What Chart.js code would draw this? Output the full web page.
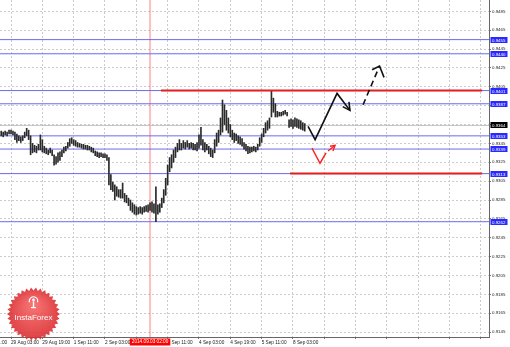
<!DOCTYPE html>
<html>
<head>
<meta charset="utf-8">
<script src="https://cdn.jsdelivr.net/npm/chart.js@4.4.1/dist/chart.umd.min.js"></script>
<style>
  html, body { margin: 0; padding: 0; background: #fff; }
  #chart { display: block; }
</style>
</head>
<body>
<canvas id="chart" width="510" height="347"></canvas>
<script>
// ----------------------------
// Data (H1 bars, bar 0 = 29 Aug 03:00)
// ----------------------------
const firstBar = -5;
const highs = [
  0.9358, 0.9357, 0.9358, 0.9357, 0.9359, 0.9359, 0.9358, 0.9357, 0.9355, 0.9353,
  0.9352, 0.9353, 0.9357, 0.9361, 0.9359, 0.9353, 0.9345, 0.9343, 0.9342, 0.9344,
  0.9354, 0.9349, 0.9342, 0.9340, 0.9338, 0.9340, 0.9338, 0.9333, 0.9331, 0.9335,
  0.9336, 0.9338, 0.9341, 0.9342, 0.9346, 0.9350, 0.9351, 0.9349, 0.9348, 0.9346,
  0.9345, 0.9344, 0.9344, 0.9343, 0.9343, 0.9342, 0.9341, 0.9340, 0.9337, 0.9336,
  0.9335, 0.9335, 0.9334, 0.9334, 0.9333, 0.9330, 0.9312, 0.9304, 0.9301, 0.9299,
  0.9296, 0.9296, 0.9303, 0.9292, 0.9290, 0.9287, 0.9285, 0.9282, 0.9280, 0.9278,
  0.9277, 0.9278, 0.9277, 0.9278, 0.9279, 0.9280, 0.9282, 0.9283, 0.9281, 0.9299,
  0.9280, 0.9281, 0.9287, 0.9296, 0.9308, 0.9322, 0.9330, 0.9333, 0.9338, 0.9341,
  0.9345, 0.9349, 0.9345, 0.9348, 0.9346, 0.9348, 0.9345, 0.9346, 0.9345, 0.9344,
  0.9346, 0.9354, 0.9362, 0.9349, 0.9346, 0.9344, 0.9342, 0.9340, 0.9338, 0.9349,
  0.9356, 0.9359, 0.9372, 0.9391, 0.9386, 0.9380, 0.9372, 0.9365, 0.9359, 0.9356,
  0.9355, 0.9353, 0.9352, 0.9350, 0.9346, 0.9344, 0.9342, 0.9341, 0.9341, 0.9342,
  0.9341, 0.9344, 0.9351, 0.9355, 0.9361, 0.9367, 0.9369, 0.9372, 0.9400, 0.9393,
  0.9387, 0.9379, 0.9378, 0.9378, 0.9379, 0.9380, 0.9378, 0.9370, 0.9371, 0.9370,
  0.9372, 0.9371, 0.9370, 0.9369, 0.9367, 0.9366
];
const lows = [
  0.9353, 0.9352, 0.9354, 0.9353, 0.9355, 0.9355, 0.9354, 0.9349, 0.9346, 0.9348,
  0.9346, 0.9348, 0.9351, 0.9353, 0.9349, 0.9333, 0.9335, 0.9336, 0.9335, 0.9338,
  0.9338, 0.9336, 0.9335, 0.9334, 0.9333, 0.9335, 0.9332, 0.9322, 0.9323, 0.9325,
  0.9327, 0.9331, 0.9335, 0.9337, 0.9340, 0.9342, 0.9345, 0.9343, 0.9342, 0.9341,
  0.9341, 0.9340, 0.9339, 0.9339, 0.9338, 0.9338, 0.9336, 0.9335, 0.9332, 0.9331,
  0.9330, 0.9331, 0.9330, 0.9330, 0.9327, 0.9301, 0.9296, 0.9294, 0.9285, 0.9289,
  0.9288, 0.9287, 0.9287, 0.9283, 0.9282, 0.9279, 0.9274, 0.9272, 0.9270, 0.9269,
  0.9270, 0.9271, 0.9270, 0.9272, 0.9273, 0.9272, 0.9274, 0.9272, 0.9271, 0.9262,
  0.9270, 0.9272, 0.9277, 0.9282, 0.9290, 0.9301, 0.9315, 0.9319, 0.9325, 0.9330,
  0.9336, 0.9338, 0.9338, 0.9340, 0.9339, 0.9341, 0.9339, 0.9340, 0.9338, 0.9338,
  0.9337, 0.9340, 0.9343, 0.9338, 0.9336, 0.9338, 0.9334, 0.9331, 0.9330, 0.9335,
  0.9342, 0.9346, 0.9354, 0.9357, 0.9365, 0.9359, 0.9356, 0.9352, 0.9349, 0.9346,
  0.9348, 0.9345, 0.9344, 0.9342, 0.9339, 0.9337, 0.9334, 0.9335, 0.9336, 0.9337,
  0.9336, 0.9338, 0.9342, 0.9346, 0.9352, 0.9356, 0.9359, 0.9361, 0.9373, 0.9378,
  0.9373, 0.9373, 0.9374, 0.9374, 0.9375, 0.9376, 0.9374, 0.9362, 0.9363, 0.9361,
  0.9363, 0.9362, 0.9361, 0.9360, 0.9359, 0.9358
];

// time axis (bar index of each label)
const timeTicks = [-16, 0, 16, 32, 48, 64, 80, 96, 112, 128, 144];
const timeLabels = ['28 Aug 11:00', '29 Aug 03:00', '29 Aug 19:00', '1 Sep 11:00', '2 Sep 03:00',
  '2 Sep 19:00', '3 Sep 11:00', '4 Sep 03:00', '4 Sep 19:00', '5 Sep 11:00', '8 Sep 03:00'];
const futureTicks = [160, 176, 192, 208, 224, 240];
const markerBar = 71;
const markerLabel = '2014.09.03 02:00';

// price axis
const priceTicks = [0.9145, 0.9165, 0.9185, 0.9205, 0.9225, 0.9245, 0.9265, 0.9285, 0.9305,
  0.9325, 0.9345, 0.9365, 0.9385, 0.9405, 0.9425, 0.9445, 0.9465, 0.9485];
const blueLevels = [0.9455, 0.9440, 0.9401, 0.9387, 0.9353, 0.9339, 0.9313, 0.9262];
const lastPrice = 0.9364;

// red key levels: price, first bar, last bar
const redLevels = [0.9401, 0.9313];
const redFrom = [76.6, 142.5];
const redTo = [240.6, 240.6];

// forecast arrows (bar index / price)
const mainX = [151.7, 155.3, 166.5, 173.1];
const mainY = [0.9363, 0.9349, 0.9398, 0.9380];
const mainHeadX = [169.4, 173.1, 172.6];
const mainHeadY = [0.9384, 0.9380, 0.9389];
const altX = [179.8, 188.2];
const altY = [0.9386, 0.9427];
const altHeadX = [184.4, 188.2, 190.5];
const altHeadY = [0.9423, 0.9427, 0.9415];
const redVX = [153.7, 157.8, 160.9];
const redVY = [0.9340, 0.9324, 0.9335];
const redUpX = [161.9, 165.5];
const redUpY = [0.9337, 0.9343];
const redHeadX = [162.9, 165.5, 164.4];
const redHeadY = [0.9342, 0.9343, 0.9337];

// ----------------------------
// Config
// ----------------------------
const X_MIN = -5.62, X_MAX = 244.1;
const Y_MIN = 0.91398, Y_MAX = 0.9497;
const FONT = 'Liberation Sans';
const GRID = '#cbcbcb';

Chart.defaults.font.family = FONT;

const path = (xs, ys, color, width, dash, order) => ({
  type: 'line',
  data: xs.map((x, k) => ({ x, y: ys[k] })),
  borderColor: color,
  borderWidth: width,
  borderDash: dash || [],
  pointRadius: 0,
  tension: 0,
  fill: false,
  order
});

const datasets = [];
datasets.push({
  type: 'bar',
  data: highs.map((h, k) => ({ x: firstBar + k, y: [lows[k], h] })),
  backgroundColor: '#2a2a2a',
  barThickness: 1,
  order: 2
});
blueLevels.forEach(v => datasets.push(path([X_MIN, X_MAX], [v, v], '#6b6bf2', 1, null, 4)));
datasets.push(path([X_MIN, X_MAX], [lastPrice, lastPrice], '#c4c4c4', 1, null, 5));
redLevels.forEach((v, k) => datasets.push(path([redFrom[k], redTo[k]], [v, v], '#e41e1e', 2, null, 3)));
datasets.push(path([markerBar, markerBar], [Y_MIN, Y_MAX], 'rgba(255,110,110,0.45)', 2, null, 6));
datasets.push(path(mainX, mainY, '#111', 1.6, null, 0));
datasets.push(path(mainHeadX, mainHeadY, '#111', 1.6, null, 0));
datasets.push(path(altX, altY, '#111', 1.6, [6, 4], 0));
datasets.push(path(altHeadX, altHeadY, '#111', 1.6, null, 0));
datasets.push(path(redVX, redVY, '#ff2020', 1.4, null, 0));
datasets.push(path(redUpX, redUpY, '#ff2020', 1.4, null, 0));
datasets.push(path(redHeadX, redHeadY, '#ff2020', 1.4, null, 0));

// price tags, time marker tag and watermark
const drawTag = (ctx, left, yPix, text, bg) => {
  ctx.fillStyle = bg;
  ctx.fillRect(left, Math.round(yPix) - 3, 17, 6);
  ctx.fillStyle = '#fff';
  ctx.fillText(text, left + 1.5, Math.round(yPix) + 0.3);
};

const drawLogo = (ctx, cx, cy) => {
  const spikes = 34, rOut = 26.5, rIn = 23.5;
  ctx.beginPath();
  for (let k = 0; k < spikes * 2; k++) {
    const r = k % 2 ? rIn : rOut;
    const a = Math.PI * k / spikes;
    ctx.lineTo(cx + r * Math.cos(a), cy + r * Math.sin(a));
  }
  ctx.closePath();
  const g = ctx.createRadialGradient(cx, cy - 10, 2, cx, cy, rOut);
  g.addColorStop(0, 'rgba(246,100,100,0.9)');
  g.addColorStop(1, 'rgba(218,44,48,0.9)');
  ctx.fillStyle = g;
  ctx.fill();

  // emblem
  ctx.strokeStyle = '#fff';
  ctx.fillStyle = '#fff';
  ctx.lineWidth = 1.2;
  ctx.beginPath();
  ctx.arc(cx, cy - 13, 4.2, Math.PI * 0.1, Math.PI * 0.9, true);
  ctx.stroke();
  ctx.beginPath();
  ctx.arc(cx, cy - 14, 1.4, 0, Math.PI * 2);
  ctx.fill();
  ctx.fillRect(cx - 0.7, cy - 12.5, 1.4, 6);
  ctx.fillRect(cx - 2.5, cy - 7, 5, 1.2);

  ctx.font = `8px "${FONT}"`;
  ctx.textAlign = 'center';
  ctx.textBaseline = 'middle';
  ctx.fillText('InstaForex', cx, cy + 4);
};

const overlay = {
  id: 'overlay',
  afterDraw(chart) {
    const { ctx, chartArea, scales: { x, y } } = chart;
    ctx.save();
    ctx.font = `4.4px "${FONT}"`;
    ctx.textAlign = 'left';
    ctx.textBaseline = 'middle';
    blueLevels.forEach(v => drawTag(ctx, chartArea.right + 1.5, y.getPixelForValue(v), v.toFixed(4), '#2a2aff'));
    drawTag(ctx, chartArea.right + 1.5, y.getPixelForValue(lastPrice), lastPrice.toFixed(4), '#000');

    // time marker tag
    ctx.font = `4.7px "${FONT}"`;
    const mx = x.getPixelForValue(markerBar);
    const w = ctx.measureText(markerLabel).width + 4;
    ctx.fillStyle = '#ff0000';
    ctx.fillRect(mx - w / 2, chartArea.bottom + 1.5, w, 7);
    ctx.fillStyle = '#fff';
    ctx.textAlign = 'center';
    ctx.fillText(markerLabel, mx, chartArea.bottom + 5.2);

    drawLogo(ctx, chartArea.left + 33.5, chartArea.bottom - 23);
    ctx.restore();
  }
};

new Chart(document.getElementById('chart').getContext('2d'), {
  type: 'bar',
  data: { datasets },
  options: {
    responsive: false,
    devicePixelRatio: 1,
    animation: false,
    layout: { padding: 0 },
    plugins: { legend: { display: false }, tooltip: { enabled: false } },
    scales: {
      x: {
        type: 'linear',
        position: 'bottom',
        min: X_MIN,
        max: X_MAX,
        offset: false,
        grid: { color: GRID, offset: false, tickLength: 2, tickColor: '#777', tickBorderDash: [] },
        border: { display: true, color: '#666', width: 1, dash: [2, 2] },
        ticks: {
          align: 'start',
          autoSkip: false,
          maxRotation: 0,
          minRotation: 0,
          padding: 1,
          color: '#222',
          font: { size: 4.7 },
          callback: (v) => {
            const k = timeTicks.indexOf(v);
            return k >= 0 ? timeLabels[k] : '';
          }
        },
        afterBuildTicks: (s) => { s.ticks = timeTicks.concat(futureTicks).map(v => ({ value: v })); },
        afterFit: (s) => { s.height = 10; s.paddingLeft = 0; s.paddingRight = 0; }
      },
      y: {
        type: 'linear',
        position: 'right',
        min: Y_MIN,
        max: Y_MAX,
        grid: { color: GRID, tickLength: 2, tickColor: '#777', tickBorderDash: [] },
        border: { display: true, color: '#666', width: 1, dash: [2, 2] },
        ticks: {
          padding: 1,
          color: '#222',
          font: { size: 4.4 },
          callback: (v) => v.toFixed(4)
        },
        afterBuildTicks: (s) => { s.ticks = priceTicks.map(v => ({ value: v })); },
        afterFit: (s) => { s.width = 21; s.paddingTop = 0; s.paddingBottom = 0; }
      }
    }
  },
  plugins: [overlay]
});
</script>
</body>
</html>
